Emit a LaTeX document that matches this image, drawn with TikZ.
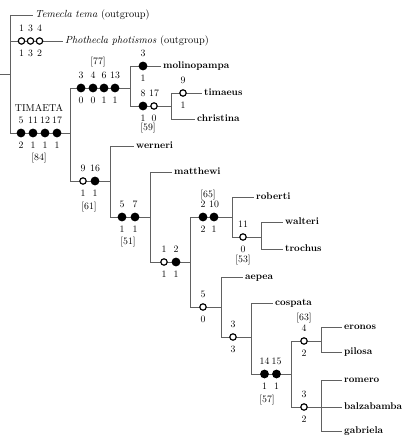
\documentclass[tikz,border=0pt]{standalone}
\begin{document}
\begin{tikzpicture}[x=1pt,y=-1pt]
\tikzset{
  br/.style={draw=black!62, line width=0.9pt},
  fc/.style={circle, fill=black, inner sep=0pt, minimum size=8.8pt},
  oc/.style={circle, draw=black, fill=white, line width=1.15pt, inner sep=0pt, minimum size=6.4pt},
  lab/.style={font=\fontsize{9.8}{10}\selectfont, inner sep=0pt},
  sp/.style={font=\fontsize{9.8}{10}\selectfont\bfseries, anchor=west, inner sep=2pt, text height=7pt, text depth=2pt},
  og/.style={font=\fontsize{10.3}{11}\selectfont, anchor=west, inner sep=2pt, text height=7pt, text depth=2pt},
  tl/.style={font=\fontsize{10}{11}\selectfont, inner sep=0pt}
}
\newcommand{\mk}[6]{%
  \node[#4] (#1) at (#2,#3) {};
  \node[lab] (#1t) at (#2,#3-12.5) {#5};
  \node[lab] (#1b) at (#2,#3+12.5) {#6};}
\useasboundingbox (0,0) rectangle (413,438);
% coordinates
\coordinate (root) at (0,74);
\coordinate (rv) at (10,74);
\coordinate (rT) at (10,15);
\coordinate (rP) at (10,41);
\coordinate (rA) at (10,133);
\coordinate (A) at (70,133);
\coordinate (B1) at (70,88);   \coordinate (B) at (130,88);
\coordinate (C1) at (130,66);
\coordinate (D1) at (130,106); \coordinate (D) at (171,106);
\coordinate (E1) at (171,93);  \coordinate (E2) at (171,119);
\coordinate (F1) at (70,181);  \coordinate (F) at (110,181);
\coordinate (G1) at (110,146);
\coordinate (H1) at (110,217); \coordinate (H) at (150,217);
\coordinate (I1) at (150,172);
\coordinate (J1) at (150,262); \coordinate (J) at (190,262);
\coordinate (K1) at (190,217); \coordinate (K) at (232,217);
\coordinate (L1) at (232,197);
\coordinate (M1) at (232,237); \coordinate (M) at (261,237);
\coordinate (N1) at (261,222); \coordinate (N2) at (261,249);
\coordinate (O1) at (190,307); \coordinate (O) at (221,307);
\coordinate (P1) at (221,277);
\coordinate (Q1) at (221,337); \coordinate (Q) at (251,337);
\coordinate (R1) at (251,303);
\coordinate (S1) at (251,374); \coordinate (S) at (291,374);
\coordinate (T1) at (291,341); \coordinate (T) at (321,341);
\coordinate (U1) at (321,327); \coordinate (U2) at (321,352);
\coordinate (V1) at (291,407); \coordinate (V) at (321,407);
\coordinate (W1) at (321,380); \coordinate (W3) at (321,431);
% tip labels
\node[og] (temecla) at (33,15) {\itshape Temecla tema \upshape(outgroup)};
\node[og] (photh) at (63,41) {\itshape Phothecla photismos \upshape(outgroup)};
\node[sp] (molino) at (161,66) {molinopampa};
\node[sp] (timaeus) at (202,93) {timaeus};
\node[sp] (christina) at (195,119) {christina};
\node[sp] (werneri) at (134,146) {werneri};
\node[sp] (matthewi) at (172,172) {matthewi};
\node[sp] (roberti) at (254,197) {roberti};
\node[sp] (walteri) at (283,222) {walteri};
\node[sp] (trochus) at (283,249) {trochus};
\node[sp] (aepea) at (243,277) {aepea};
\node[sp] (cospata) at (273,303) {cospata};
\node[sp] (eronos) at (342,327) {eronos};
\node[sp] (pilosa) at (342,352) {pilosa};
\node[sp] (romero) at (342,380) {romero};
\node[sp] (balza) at (342,407) {balzabamba};
\node[sp] (gabriela) at (342,431) {gabriela};
% branches
\draw[br] (root) -- (rv);
\draw[br] (rT) -- (rA);
\draw[br] (rT) -- (temecla.west);
\draw[br] (rP) -- (photh.west);
\draw[br] (rA) -- (A);
\draw[br] (B1) -- (F1);
\draw[br] (B1) -- (B);
\draw[br] (C1) -- (D1);
\draw[br] (C1) -- (molino.west);
\draw[br] (D1) -- (D);
\draw[br] (E1) -- (E2);
\draw[br] (E1) -- (timaeus.west);
\draw[br] (E2) -- (christina.west);
\draw[br] (F1) -- (F);
\draw[br] (G1) -- (H1);
\draw[br] (G1) -- (werneri.west);
\draw[br] (H1) -- (H);
\draw[br] (I1) -- (J1);
\draw[br] (I1) -- (matthewi.west);
\draw[br] (J1) -- (J);
\draw[br] (K1) -- (O1);
\draw[br] (K1) -- (K);
\draw[br] (L1) -- (M1);
\draw[br] (L1) -- (roberti.west);
\draw[br] (M1) -- (M);
\draw[br] (N1) -- (N2);
\draw[br] (N1) -- (walteri.west);
\draw[br] (N2) -- (trochus.west);
\draw[br] (O1) -- (O);
\draw[br] (P1) -- (Q1);
\draw[br] (P1) -- (aepea.west);
\draw[br] (Q1) -- (Q);
\draw[br] (R1) -- (S1);
\draw[br] (R1) -- (cospata.west);
\draw[br] (S1) -- (S);
\draw[br] (T1) -- (V1);
\draw[br] (T1) -- (T);
\draw[br] (U1) -- (U2);
\draw[br] (U1) -- (eronos.west);
\draw[br] (U2) -- (pilosa.west);
\draw[br] (V1) -- (V);
\draw[br] (V) -- (balza.west);
\draw[br] (W1) -- (W3);
\draw[br] (W1) -- (romero.west);
\draw[br] (W3) -- (gabriela.west);
% character states
\mk{p1}{21.5}{41}{oc}{1}{1}
\mk{p2}{30.5}{41}{oc}{3}{3}
\mk{p3}{39.5}{41}{oc}{4}{2}
\mk{a1}{21}{133}{fc}{5}{2}
\mk{a2}{33}{133}{fc}{11}{1}
\mk{a3}{45}{133}{fc}{12}{1}
\mk{a4}{57}{133}{fc}{17}{1}
\node[tl] (timaeta) at (39,108) {TIMAETA};
\node[lab] (s84) at (39,158) {[84]};
\mk{b1}{81}{88}{fc}{3}{0}
\mk{b2}{93}{88}{fc}{4}{0}
\mk{b3}{104}{88}{fc}{6}{1}
\mk{b4}{115}{88}{fc}{13}{1}
\node[lab] (s77) at (98,62) {[77]};
\mk{c1}{143}{66}{fc}{3}{1}
\mk{d1}{143}{106}{fc}{8}{1}
\mk{d2}{154}{106}{oc}{17}{0}
\node[lab] (s59) at (148,128) {[59]};
\mk{e1}{183}{93}{oc}{9}{1}
\mk{f1}{83}{181}{oc}{9}{1}
\mk{f2}{95}{181}{fc}{16}{1}
\node[lab] (s61) at (89,207) {[61]};
\mk{h1}{122}{217}{fc}{5}{1}
\mk{h2}{135}{217}{fc}{7}{1}
\node[lab] (s51) at (128,242) {[51]};
\mk{j1}{164}{262}{oc}{1}{1}
\mk{j2}{176}{262}{fc}{2}{1}
\mk{k1}{203}{217}{fc}{2}{2}
\mk{k2}{214}{217}{fc}{10}{1}
\node[lab] (s65) at (208,195) {[65]};
\mk{m1}{243}{237}{oc}{11}{0}
\node[lab] (s53) at (243,260) {[53]};
\mk{o1}{203}{307}{oc}{5}{0}
\mk{q1}{233}{337}{oc}{3}{3}
\mk{s1}{264.5}{374}{fc}{14}{1}
\mk{s2}{276.5}{374}{fc}{15}{1}
\node[lab] (s57) at (267,400) {[57]};
\mk{t1}{304}{341}{oc}{4}{2}
\node[lab] (s63) at (304,318) {[63]};
\mk{v1}{304}{407}{oc}{3}{2}
\end{tikzpicture}
\end{document}
